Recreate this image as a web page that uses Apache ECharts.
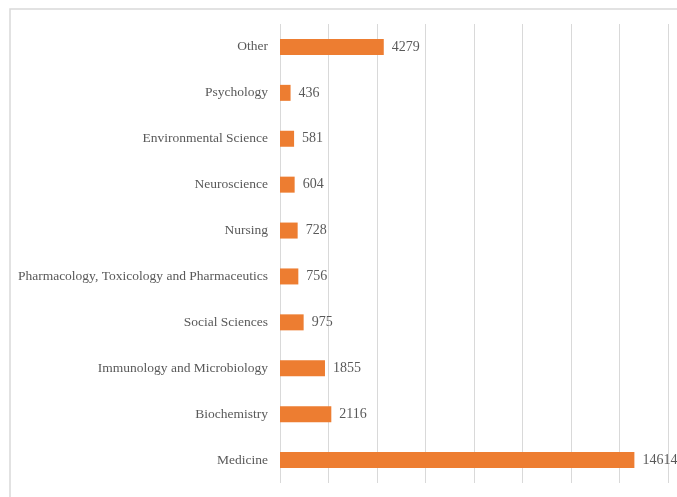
<!DOCTYPE html>
<html>
<head>
<meta charset="utf-8">
<script src="https://cdn.jsdelivr.net/npm/echarts@6/dist/echarts.min.js"></script>
<style>
  html, body { margin: 0; padding: 0; background: #ffffff; }
  #chart { width: 677px; height: 497px; }
</style>
</head>
<body>
<div id="chart"></div>
<script>
// Publications by subject area
const categories = [
  'Medicine',
  'Biochemistry',
  'Immunology and Microbiology',
  'Social Sciences',
  'Pharmacology, Toxicology and Pharmaceutics',
  'Nursing',
  'Neuroscience',
  'Environmental Science',
  'Psychology',
  'Other'
];
const counts = [14614, 2116, 1855, 975, 756, 728, 604, 581, 436, 4279];

const textFont = '"Liberation Serif", "Times New Roman", serif';
const chart = echarts.init(document.getElementById('chart'));

chart.setOption({
  backgroundColor: '#ffffff',
  animation: false,
  graphic: [{
    type: 'rect',
    shape: { x: 10, y: 9, width: 700, height: 520 },
    style: { fill: 'none', stroke: '#d9d9d9', lineWidth: 1.5 },
    silent: true
  }],
  grid: { left: 280, right: 9, top: 24, bottom: 14, containLabel: false },
  xAxis: {
    type: 'value',
    min: 0,
    max: 16000,
    interval: 2000,
    axisLabel: { show: false },
    axisLine: { show: false },
    axisTick: { show: false },
    splitLine: { show: true, lineStyle: { color: '#d9d9d9', width: 1 } }
  },
  yAxis: {
    type: 'category',
    data: categories,
    axisLine: { show: false },
    axisTick: { show: false },
    axisLabel: {
      margin: 12,
      color: '#595959',
      fontFamily: textFont,
      fontSize: 13.5
    }
  },
  series: [{
    type: 'bar',
    data: counts,
    barWidth: 16,
    itemStyle: { color: '#ED7D31' },
    label: {
      show: true,
      position: 'right',
      distance: 8,
      color: '#595959',
      fontFamily: textFont,
      fontSize: 14
    }
  }]
});
</script>
</body>
</html>
